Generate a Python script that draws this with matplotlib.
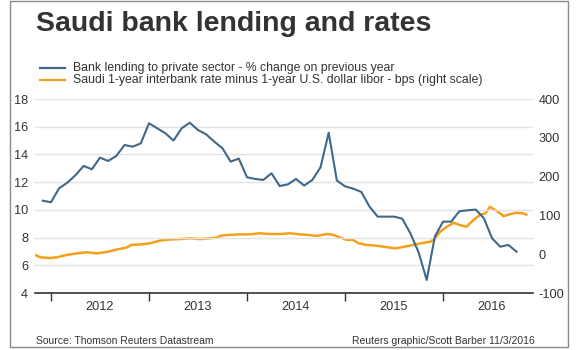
import numpy as np
import pandas as pd
import matplotlib
matplotlib.use("Agg")
import matplotlib.pyplot as plt
from matplotlib.patches import Rectangle

# ---- data ----
lending_start = "2011-12"
lending = [10.66, 10.55, 11.56, 11.96, 12.50, 13.17, 12.93, 13.77, 13.53, 13.89,
           14.68, 14.56, 14.80, 16.25, 15.89, 15.53, 15.00, 15.89, 16.29, 15.76,
           15.45, 14.92, 14.44, 13.48, 13.70, 12.35, 12.23, 12.16, 12.64, 11.72,
           11.84, 12.23, 11.75, 12.16, 13.07, 15.57, 12.12, 11.70, 11.53, 11.29,
           10.23, 9.51, 9.51, 9.51, 9.37, 8.31, 6.95, 4.94, 8.07, 9.15,
           9.15, 9.90, 9.97, 10.02, 9.40, 7.95, 7.34, 7.47, 6.98]

spread_x = [2011.84, 2011.89, 2011.99, 2012.06, 2012.16, 2012.26, 2012.36, 2012.47,
            2012.57, 2012.67, 2012.77, 2012.82, 2012.91, 2013.01, 2013.11, 2013.21,
            2013.32, 2013.42, 2013.52, 2013.62, 2013.69, 2013.74, 2013.83, 2013.93,
            2014.03, 2014.13, 2014.23, 2014.34, 2014.44, 2014.54, 2014.61, 2014.71,
            2014.81, 2014.88, 2014.95, 2015.02, 2015.08, 2015.14, 2015.22, 2015.32,
            2015.43, 2015.51, 2015.56, 2015.66, 2015.77, 2015.87, 2015.92, 2015.97,
            2016.04, 2016.11, 2016.17, 2016.24, 2016.31, 2016.38, 2016.43, 2016.48,
            2016.55, 2016.62, 2016.68, 2016.75, 2016.82, 2016.85]
spread = [-2, -8, -10, -8, -2, 2, 5, 2, 6, 12, 17, 24, 25, 28, 35, 38,
          39, 41, 39, 41, 43, 48, 50, 51, 51, 54, 52, 52, 54, 51, 50, 47,
          52, 50, 43, 37, 37, 28, 24, 22, 18, 15, 17, 22, 28, 32, 41, 58,
          71, 81, 75, 71, 88, 102, 105, 122, 111, 98, 103, 107, 105, 102]

years = [2012, 2013, 2014, 2015, 2016]
left_ticks = [4, 6, 8, 10, 12, 14, 16, 18]
right_ticks = [-100, 0, 100, 200, 300, 400]

title = "Saudi bank lending and rates"
legend_labels = ["Bank lending to private sector - % change on previous year",
                 "Saudi 1-year interbank rate minus 1-year U.S. dollar libor - bps (right scale)"]
source = "Source: Thomson Reuters Datastream"
credit = "Reuters graphic/Scott Barber 11/3/2016"

# ---- style ----
BLUE = "#3f6889"
ORANGE = "#f5a01a"
TEXT = "#333333"
GRID = "#e3e3e3"
plt.rcParams['font.family'] = ['Liberation Sans', 'DejaVu Sans']

dates = pd.period_range(lending_start, periods=len(lending), freq="M")
lend_x = np.array([d.year + (d.month - 1) / 12 for d in dates])

W, H = 580, 350
fig = plt.figure(figsize=(W / 100, H / 100), dpi=100)
fig.patch.set_facecolor("white")

# border
fig.patches.append(Rectangle((10 / W, 1 - 347 / H), 558 / W, 346 / H,
                             transform=fig.transFigure, fill=False,
                             edgecolor="#8a8a8a", lw=1.0))

ax = fig.add_axes([35 / W, 1 - 293 / H, 498 / W, 194 / H])
ax2 = ax.twinx()

ax.set_ylim(4, 18)
ax2.set_ylim(-100, 400)
ax.set_xlim(2011.837, 2016.918)

ax.set_yticks(left_ticks)
ax.set_yticklabels([str(t) for t in left_ticks])
ax2.set_yticks(right_ticks)
ax2.set_yticklabels([str(t) for t in right_ticks])

for t in left_ticks[1:]:
    ax.axhline(t, color=GRID, lw=1.0, zorder=0)

ax.plot(lend_x, lending, color=BLUE, lw=1.5, zorder=3, solid_joinstyle="round")
ax2.plot(spread_x, spread, color=ORANGE, lw=1.8, zorder=2, solid_joinstyle="round")
ax.set_zorder(ax2.get_zorder() + 1)
ax.patch.set_visible(False)

ax.set_xticks(years)
ax.set_xticklabels([])
ax.set_xticks([y + 0.5 for y in years], minor=True)
ax.set_xticklabels([str(y) for y in years], minor=True)
ax.tick_params(axis="x", which="major", length=6, width=1, color=TEXT, direction="out")
ax.tick_params(axis="x", which="minor", length=0, pad=6, labelsize=9.2, labelcolor=TEXT)
ax.tick_params(axis="y", length=0, pad=5, labelsize=9.2, labelcolor=TEXT)
ax2.tick_params(axis="y", length=0, pad=4, labelsize=9.2, labelcolor=TEXT)

for a in (ax, ax2):
    for s in ("left", "right", "top"):
        a.spines[s].set_visible(False)
ax.spines["bottom"].set_color(TEXT)
ax.spines["bottom"].set_linewidth(1.2)
ax2.spines["bottom"].set_visible(False)

# title
fig.text(36 / W, 1 - 31 / H, title, fontsize=20.5, fontweight="bold", color=TEXT,
         ha="left", va="baseline")

# legend (manual)
for i, (lab, col) in enumerate(zip(legend_labels, [BLUE, ORANGE])):
    yy = 1 - (67.5 + 12.5 * i) / H
    fig.add_artist(plt.Line2D([40 / W, 65 / W], [yy, yy], transform=fig.transFigure,
                              color=col, lw=1.6))
    fig.text(73 / W, yy, lab, fontsize=8.8, color=TEXT, ha="left", va="center")

fig.text(36 / W, 1 - 341 / H, source, fontsize=7.5, color=TEXT, ha="left", va="center")
fig.text(535 / W, 1 - 341 / H, credit, fontsize=7.5, color=TEXT, ha="right", va="center")

fig.savefig("out.png", dpi=100)
